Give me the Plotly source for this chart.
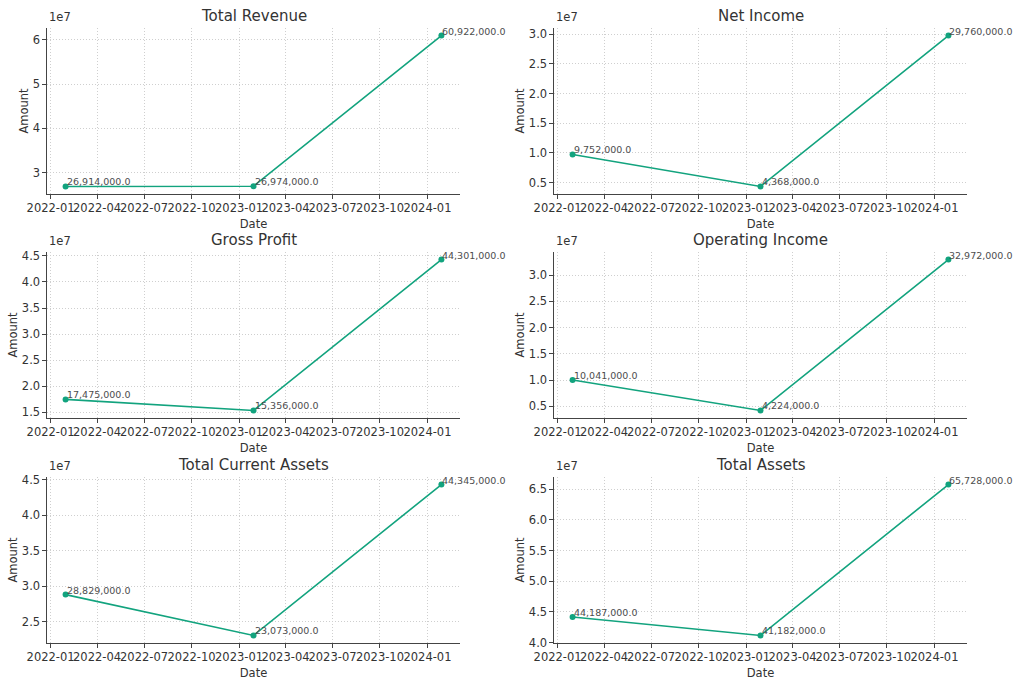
import plotly.graph_objects as go

dates = ["2022-01-30", "2023-01-29", "2024-01-28"]

titles = ["Total Revenue", "Net Income", "Gross Profit", "Operating Income",
          "Total Current Assets", "Total Assets"]

total_revenue = [26914000, 26974000, 60922000]
net_income = [9752000, 4368000, 29760000]
gross_profit = [17475000, 15356000, 44301000]
operating_income = [10041000, 4224000, 32972000]
total_current_assets = [28829000, 23073000, 44345000]
total_assets = [44187000, 41182000, 65728000]

series = [total_revenue, net_income, gross_profit, operating_income,
          total_current_assets, total_assets]

y_ticks = [
    [3e7, 4e7, 5e7, 6e7],
    [0.5e7, 1.0e7, 1.5e7, 2.0e7, 2.5e7, 3.0e7],
    [1.5e7, 2.0e7, 2.5e7, 3.0e7, 3.5e7, 4.0e7, 4.5e7],
    [0.5e7, 1.0e7, 1.5e7, 2.0e7, 2.5e7, 3.0e7],
    [2.5e7, 3.0e7, 3.5e7, 4.0e7, 4.5e7],
    [4.0e7, 4.5e7, 5.0e7, 5.5e7, 6.0e7, 6.5e7],
]
y_ticktext = [
    ["3", "4", "5", "6"],
    ["0.5", "1.0", "1.5", "2.0", "2.5", "3.0"],
    ["1.5", "2.0", "2.5", "3.0", "3.5", "4.0", "4.5"],
    ["0.5", "1.0", "1.5", "2.0", "2.5", "3.0"],
    ["2.5", "3.0", "3.5", "4.0", "4.5"],
    ["4.0", "4.5", "5.0", "5.5", "6.0", "6.5"],
]

x_tickvals = ["2022-01-01", "2022-04-01", "2022-07-01", "2022-10-01", "2023-01-01",
              "2023-04-01", "2023-07-01", "2023-10-01", "2024-01-01"]
x_ticktext = ["2022-01", "2022-04", "2022-07", "2022-10", "2023-01",
              "2023-04", "2023-07", "2023-10", "2024-01"]
x_range = ["2021-12-25", "2024-03-04"]

W, H = 1024, 683
cols_px = [(47, 460), (554, 967)]
rows_px = [(28, 194), (252, 418), (477, 643)]

COLOR = "#12a37e"
TEXT = "#333333"
FONT = "DejaVu Sans"

fig = go.Figure()
annotations = []
for i, (title, vals) in enumerate(zip(titles, series)):
    r, c = divmod(i, 2)
    n = i + 1
    xa = "xaxis" if n == 1 else f"xaxis{n}"
    ya = "yaxis" if n == 1 else f"yaxis{n}"
    xr = "x" if n == 1 else f"x{n}"
    yr = "y" if n == 1 else f"y{n}"
    x0, x1 = cols_px[c]
    t, b = rows_px[r]
    lo, hi = min(vals), max(vals)
    pad = 0.05 * (hi - lo)
    fig.add_trace(go.Scatter(
        x=dates, y=vals, mode="lines+markers",
        line=dict(color=COLOR, width=1.6),
        marker=dict(color=COLOR, size=6),
        xaxis=xr, yaxis=yr, showlegend=False, hoverinfo="skip"))
    common = dict(showgrid=True, gridcolor="#cfcfcf", griddash="1px,2px", gridwidth=0.8,
                  showline=True, linecolor="#444444", linewidth=1.1,
                  ticks="outside", ticklen=3.5, tickcolor="#444444",
                  tickfont=dict(family=FONT, size=11.5, color=TEXT),
                  zeroline=False, tickangle=0, automargin=False)
    fig.layout[xa] = dict(
        domain=[x0 / W, x1 / W], anchor=yr, type="date",
        range=x_range, tickmode="array", tickvals=x_tickvals, ticktext=x_ticktext,
        title=dict(text="Date", font=dict(family=FONT, size=11.5, color=TEXT), standoff=5),
        **common)
    fig.layout[ya] = dict(
        domain=[1 - b / H, 1 - t / H], anchor=xr,
        range=[lo - pad, hi + pad], tickmode="array",
        tickvals=y_ticks[i], ticktext=y_ticktext[i],
        title=dict(text="Amount", font=dict(family=FONT, size=11.5, color=TEXT), standoff=1),
        **common)
    annotations.append(dict(
        text=title, xref=f"{xr} domain", yref=f"{yr} domain", x=0.5, y=1,
        xanchor="center", yanchor="bottom", yshift=1, showarrow=False,
        font=dict(family=FONT, size=15, color=TEXT)))
    annotations.append(dict(
        text="1e7", xref=f"{xr} domain", yref=f"{yr} domain", x=0, y=1,
        xanchor="left", yanchor="bottom", yshift=2, showarrow=False,
        font=dict(family=FONT, size=11.5, color=TEXT)))
    for d, v in zip(dates, vals):
        annotations.append(dict(
            text=f"{v:,.1f}", x=d, y=v, xref=xr, yref=yr,
            xanchor="left", yanchor="bottom", yshift=-3, xshift=-1, showarrow=False,
            font=dict(family=FONT, size=9.5, color="#4d4d4d")))

fig.update_layout(
    width=W, height=H, margin=dict(l=0, r=0, t=0, b=0, autoexpand=False),
    paper_bgcolor="white", plot_bgcolor="white",
    annotations=annotations, font=dict(family=FONT, color=TEXT))

fig.write_html("out.html", config={"displayModeBar": False},
               post_script="document.body.style.margin='0';document.body.style.overflow='hidden';")
